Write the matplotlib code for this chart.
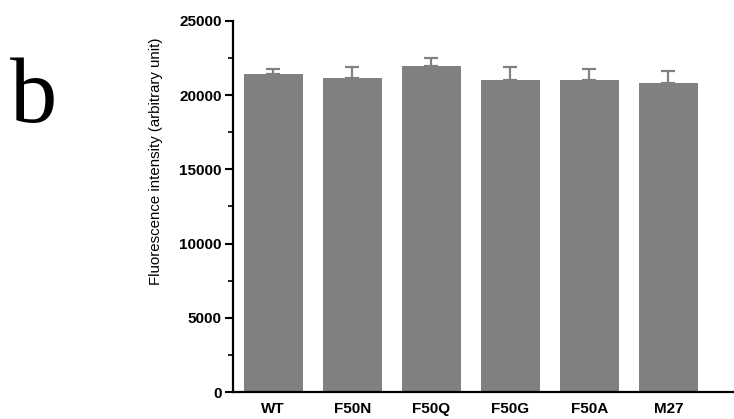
import matplotlib
matplotlib.use("Agg")
import matplotlib.pyplot as plt
from matplotlib.ticker import MultipleLocator

labels = ["WT", "F50N", "F50Q", "F50G", "F50A", "M27"]
means = [21430, 21180, 21950, 21030, 21000, 20850]
errs = [320, 700, 560, 850, 750, 790]
yticks = [0, 5000, 10000, 15000, 20000, 25000]

fig = plt.figure(figsize=(7.34, 4.19), dpi=100)
ax = fig.add_axes([0.3174, 0.0644, 0.6826, 0.8856])

x = range(len(labels))
ax.bar(x, means, width=0.74, color="#808080",
       yerr=[[0] * len(errs), errs], ecolor="#808080", capsize=5,
       error_kw=dict(elinewidth=1.6, capthick=1.6))

ax.set_xlim(-0.51, 5.83)
ax.set_ylim(0, 25000)
ax.set_yticks(yticks)
ax.yaxis.set_minor_locator(MultipleLocator(2500))
ax.set_xticks(list(x))
ax.set_xticklabels(labels, fontsize=11, fontweight="bold", family="Liberation Sans")
for t in ax.get_yticklabels():
    t.set_fontsize(11)
    t.set_fontweight("bold")
    t.set_family("Liberation Sans")

ax.spines["top"].set_visible(False)
ax.spines["right"].set_visible(False)
ax.spines["left"].set_linewidth(1.6)
ax.spines["bottom"].set_linewidth(1.6)
ax.tick_params(axis="y", which="major", length=6, width=1.5, direction="out", pad=2)
ax.tick_params(axis="y", which="minor", length=3.5, width=1.2, direction="out")
ax.tick_params(axis="x", length=0, pad=7)

ax.set_ylabel("Fluorescence intensity (arbitrary unit)", fontsize=10.8,
              family="Liberation Sans")
ax.yaxis.set_label_coords(-0.140, 0.623)

fig.text(0.014, 0.71, "b", fontsize=68, family="Liberation Serif", va="baseline")

fig.savefig("out.png", dpi=100)
